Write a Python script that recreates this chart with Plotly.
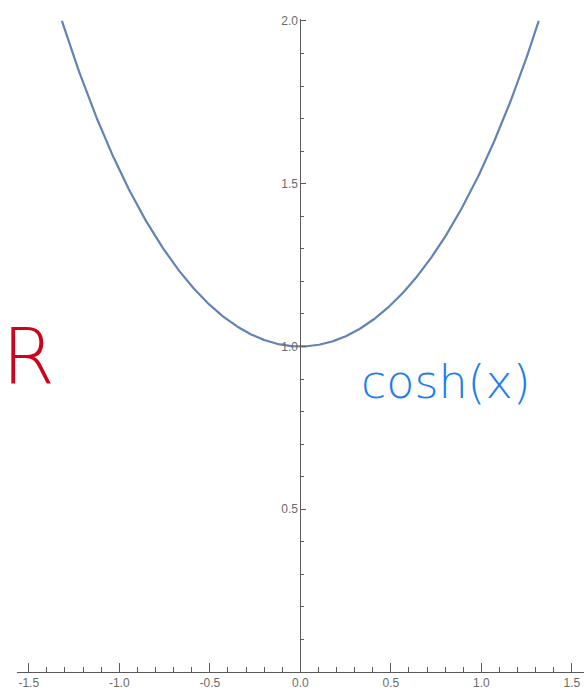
import numpy as np
import plotly.graph_objects as go

# Plotted function and its domain: cosh(x) on [-arccosh(2), arccosh(2)]
x_lo, x_hi = -np.arccosh(2.0), np.arccosh(2.0)
x_vals = np.linspace(x_lo, x_hi, 400)
y_vals = np.cosh(x_vals)

# Axis ticks
x_tickvals = [-1.5, -1.0, -0.5, 0.0, 0.5, 1.0, 1.5]
x_ticktext = ["-1.5", "-1.0", "-0.5", "0.0", "0.5", "1.0", "1.5"]
y_tickvals = [0.5, 1.0, 1.5, 2.0]
y_ticktext = ["0.5", "1.0", "1.5", "2.0"]

# Handwritten-style labels
notes = ["R", "cosh(x)"]

W, H = 584, 700
ml, mr, mt, mb = 17, 0, 19, 28
x_range = [-1.565, 1.567]
y_range = [0.0, 2.006]
yaxis_pos = (0 - x_range[0]) / (x_range[1] - x_range[0])

axis_col = "#5a5a5a"
label_font = dict(family="Liberation Sans Narrow, Liberation Sans, Arial", size=12, color="#6a6a6a")

fig = go.Figure()
fig.add_trace(go.Scatter(
    x=x_vals, y=y_vals, mode="lines",
    line=dict(color="#6283b3", width=2.2),
    hoverinfo="skip", showlegend=False,
))

fig.update_layout(
    width=W, height=H,
    margin=dict(l=ml, r=mr, t=mt, b=mb, pad=0),
    paper_bgcolor="white", plot_bgcolor="white",
    xaxis=dict(
        range=x_range, showgrid=False, zeroline=False,
        showline=True, linecolor=axis_col, linewidth=1,
        ticks="inside", ticklen=9, tickcolor=axis_col, tickwidth=1,
        tickvals=x_tickvals, ticktext=x_ticktext, tickfont=label_font,
        minor=dict(ticks="inside", dtick=0.1, tick0=0, ticklen=5,
                   tickcolor=axis_col, tickwidth=1),
    ),
    yaxis=dict(
        range=y_range, showgrid=False, zeroline=False,
        anchor="free", position=yaxis_pos, side="left",
        showline=True, linecolor=axis_col, linewidth=1,
        ticks="inside", ticklen=5, tickcolor=axis_col, tickwidth=1,
        tickvals=y_tickvals, ticktext=y_ticktext, tickfont=label_font,
        minor=dict(ticks="inside", dtick=0.1, tick0=0, ticklen=3,
                   tickcolor=axis_col, tickwidth=1),
    ),
)

fig.add_annotation(
    x=0, y=0.97, xref="paper", yref="y", xshift=-17, text=notes[0], showarrow=False,
    xanchor="left", yanchor="middle",
    font=dict(family="DejaVu Sans", size=76, color="#d0021b", weight=200),
)
fig.add_annotation(
    x=0.805, y=0.89, xref="x", yref="y", text=notes[1], showarrow=False,
    xanchor="center", yanchor="middle",
    font=dict(family="DejaVu Sans", size=46, color="#1a7cf0", weight=200),
)

fig.write_html("out.html")
